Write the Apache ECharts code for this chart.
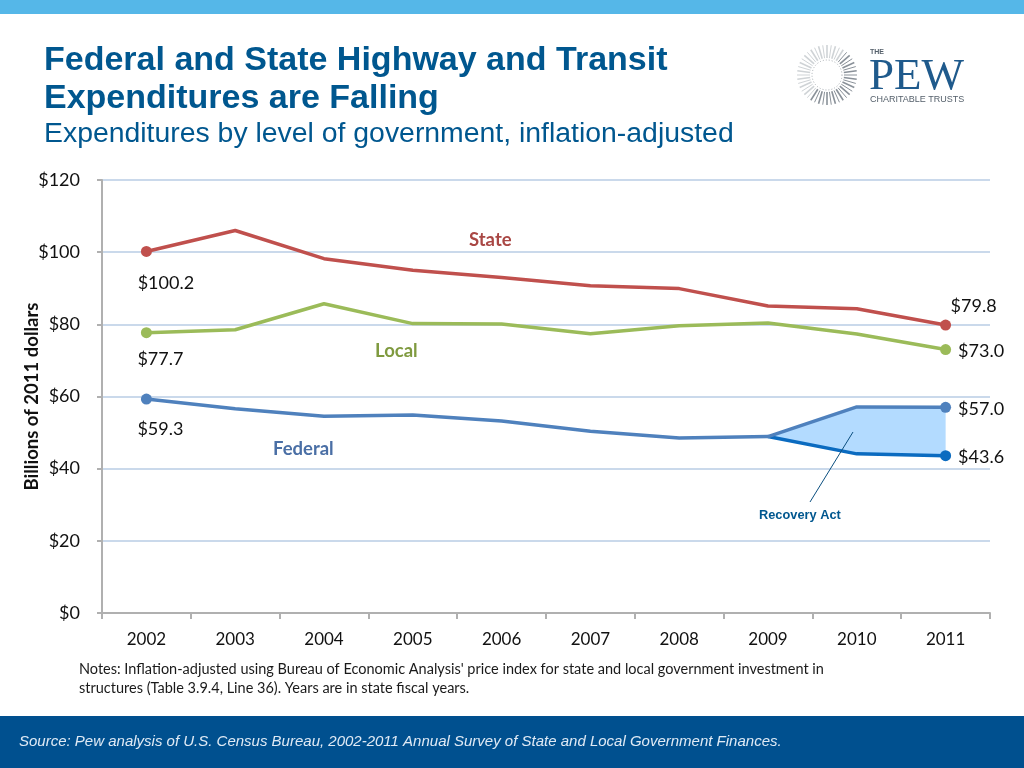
<!DOCTYPE html>
<html><head><meta charset="utf-8">
<style>html,body{margin:0;padding:0;background:#fff}#c{width:1024px;height:768px}</style>
<script src="https://cdn.jsdelivr.net/npm/echarts@6/dist/echarts.min.js"></script>
</head><body><div id="c"></div>
<script>
const years = ['2002','2003','2004','2005','2006','2007','2008','2009','2010','2011'];
const yTicks = [0,20,40,60,80,100,120];
const stateVals = [100.2,106.0,98.2,95.0,93.0,90.7,89.9,85.1,84.3,79.8];
const localVals = [77.7,78.5,85.7,80.2,80.1,77.4,79.6,80.4,77.3,73.0];
const federalVals = [59.3,56.6,54.5,54.9,53.2,50.4,48.5,48.9,57.1,57.0];
const noRecoveryVals = [null,null,null,null,null,null,null,48.9,44.1,43.6];
const recoveryGap = [null,null,null,null,null,null,null,0,13.0,13.4];

const C = {state:'#c0504d',local:'#9bbb59',federal:'#4f81bd',lower:'#0b6bc0',area:'#b3dbff'};
const FONT = 'Lato';
const lbl = (extra)=>({show:true,color:'#111',fontFamily:FONT,fontSize:18,formatter:p=>'$'+p.value.toFixed(1),...extra});
function pts(vals,labels){
  return vals.map((v,i)=>{
    const o={value:v,symbol:labels[i]?'circle':'none',label:labels[i]?lbl(labels[i]):{show:false}};
    return o;
  });
}
function line(name,vals,color,labels,z){
  return {name,type:'line',data:pts(vals,labels),showAllSymbol:true,symbolSize:11,z:z||3,
    connectNulls:false,lineStyle:{color,width:3.5},itemStyle:{color},emphasis:{disabled:true},animation:false};
}
const L=(a,b)=>{const r={};r[0]=a;r[9]=b;return r;};
const rightLabel={position:'right',distance:7,offset:[0,1.5]};

// logo rays
const rays=[];
for(let i=0;i<44;i++){
  const a=i/44*Math.PI*2, cx=827, cy=75;
  const shade=(Math.cos(a-0.6)>0)?'#8a9199':'#cfd3d6';
  rays.push({type:'line',silent:true,shape:{x1:cx+Math.cos(a)*17,y1:cy+Math.sin(a)*17,x2:cx+Math.cos(a)*30,y2:cy+Math.sin(a)*30},
    style:{stroke:shade,lineWidth:i%2?1.6:1}});
}
const T=(x,y,text,font,fill,extra)=>({type:'text',x,y,silent:true,style:{text,font,fill,...extra}});

const chart=echarts.init(document.getElementById('c'),null,{renderer:'canvas'});
chart.setOption({
  animation:false,backgroundColor:'#fff',
  grid:{left:102,right:34,top:180,bottom:155,containLabel:false},
  xAxis:{type:'category',data:years,boundaryGap:true,
    axisLine:{lineStyle:{color:'#b0b0b0',width:2}},
    axisTick:{show:true,alignWithLabel:false,length:6,lineStyle:{color:'#b0b0b0',width:2}},
    axisLabel:{color:'#111',fontFamily:FONT,fontSize:17,margin:18}},
  yAxis:{type:'value',min:0,max:120,interval:20,
    name:'Billions of 2011 dollars',nameLocation:'middle',nameGap:70,nameMoveOverlap:false,
    nameTextStyle:{color:'#111',fontFamily:FONT,fontSize:18.5,fontWeight:'bold',verticalAlign:'middle'},
    axisLine:{show:true,lineStyle:{color:'#b0b0b0',width:2}},
    axisTick:{show:true,length:5,lineStyle:{color:'#b0b0b0',width:2}},
    axisLabel:{color:'#111',fontFamily:FONT,fontSize:18,margin:22,formatter:v=>'$'+v},
    splitLine:{show:true,lineStyle:{color:'#b9cde5',width:1.5}}},
  series:[
    {name:'base',type:'line',stack:'rec',data:noRecoveryVals,symbol:'none',lineStyle:{width:0},z:1,animation:false},
    {name:'Recovery Act',type:'line',stack:'rec',data:recoveryGap,symbol:'none',lineStyle:{width:0},areaStyle:{color:C.area,opacity:1},z:1,animation:false},
    line('State',stateVals,C.state,L({position:'bottom',offset:[19.5,12]},{position:'top',offset:[28,1]})),
    line('Local',localVals,C.local,L({position:'bottom',offset:[14,7]},rightLabel)),
    line('Without Recovery Act',noRecoveryVals,C.lower,{9:rightLabel},3),
    line('Federal',federalVals,C.federal,L({position:'bottom',offset:[14,11]},rightLabel),4)
  ],
  graphic:[
    {type:'rect',silent:true,shape:{x:0,y:0,width:1024,height:14},style:{fill:'#55b7e8'}},
    {type:'rect',silent:true,shape:{x:0,y:716,width:1024,height:52},style:{fill:'#00508f'}},
    T(44,44,'Federal and State Highway and Transit','bold 34px "Liberation Sans"','#00578f'),
    T(44,82,'Expenditures are Falling','bold 34px "Liberation Sans"','#00578f'),
    T(44,120,'Expenditures by level of government, inflation-adjusted','28.4px "Liberation Sans"','#00578f'),
    T(79,662,"Notes: Inflation-adjusted using Bureau of Economic Analysis' price index for state and local government investment in",'14.5px Lato','#1a1a1a'),
    T(79,681,'structures (Table 3.9.4, Line 36). Years are in state fiscal years.','14.5px Lato','#1a1a1a'),
    T(19,734,'Source: Pew analysis of U.S. Census Bureau, 2002-2011 Annual Survey of State and Local Government Finances.','italic 15px "Liberation Sans"','#dfeaf5'),
    T(469,231,'State','bold 18.5px Lato','#a94744'),
    T(375,342,'Local','bold 18.5px Lato','#7f9a3f'),
    T(273,440,'Federal','bold 18.5px Lato','#4a6fa5'),
    T(759,509,'Recovery Act','bold 12.8px "Liberation Sans"','#00578f'),
    {type:'line',silent:true,z:10,shape:{x1:853,y1:432,x2:810,y2:502},style:{stroke:'#0b4f80',lineWidth:1}},
    ...rays,
    {type:'circle',silent:true,shape:{cx:827,cy:75,r:15},style:{fill:'none',stroke:'#a8adb2',lineWidth:1,lineDash:[1,2]}},
    T(870,49,'THE','bold 7px "Liberation Sans"','#55606b'),
    T(869,55,'PEW','45px "Liberation Serif"','#1f5a8c'),
    T(870,95,'CHARITABLE TRUSTS','9px "Liberation Sans"','#55606b')
  ]
});
</script></body></html>
